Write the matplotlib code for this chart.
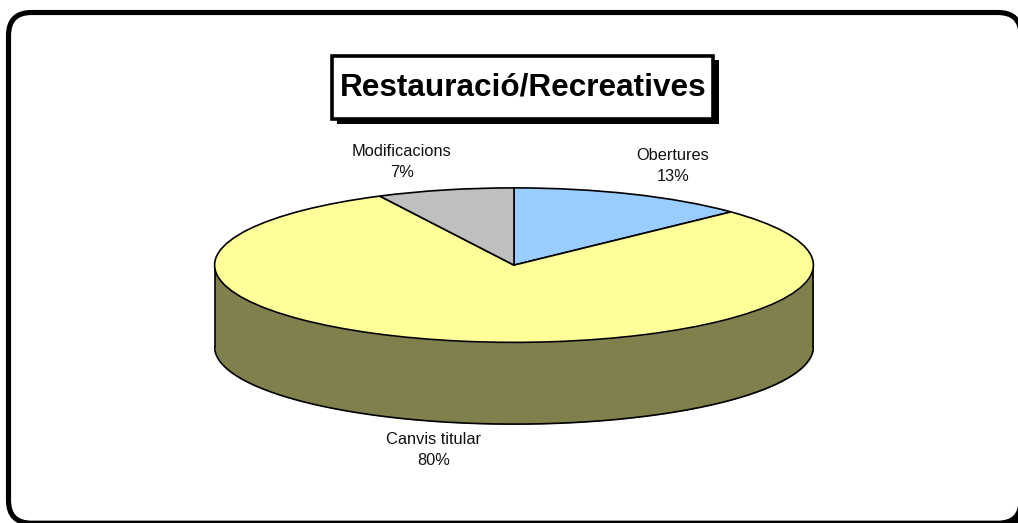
import numpy as np
import matplotlib
matplotlib.use("Agg")
import matplotlib.pyplot as plt
from matplotlib.patches import FancyBboxPatch, Rectangle

plt.rcParams['font.family'] = ['Liberation Sans', 'DejaVu Sans']

TITLE = "Restauració/Recreatives"
labels = ["Obertures", "Canvis titular", "Modificacions"]
shares = [12.9, 79.7, 7.4]
colors = ["#99CCFF", "#FFFF99", "#BFBFBF"]
SIDE_COLOR = "#80804D"

W, H = 1018, 523
# ellipse of the pie top in pixels
CX, CY, RX, RY, DEPTH = 514, 265, 300, 77.5, 82

fig = plt.figure(figsize=(W / 100, H / 100), dpi=100)

# page axes in pixel units for frame, title and labels
page = fig.add_axes([0, 0, 1, 1])
page.set_xlim(0, W)
page.set_ylim(H, 0)
page.axis("off")

# frame runs off the right and bottom of the image, shadow shows in the corner
page.add_patch(FancyBboxPatch((30, 30), 1000, 500, boxstyle="round,pad=0,rounding_size=5",
                              fc="black", ec="black", lw=0))
page.add_patch(FancyBboxPatch((8.5, 12.5), 1012.5, 510.7, boxstyle="round,pad=0,rounding_size=23",
                              fc="white", ec="black", lw=3.7))

# title box with drop shadow
page.add_patch(Rectangle((337, 60), 382, 64, fc="black", ec="none"))
page.add_patch(Rectangle((332, 55.5), 381, 63.5, fc="white", ec="black", lw=2.6))
page.text(523.5, 87.5, TITLE, ha="center", va="center", fontsize=22.7, fontweight="bold")

# pie axes: unit circle stretched into the ellipse
d = DEPTH / RY
ax = fig.add_axes([(CX - RX) / W, 1 - (CY + RY + DEPTH) / H, 2 * RX / W, (2 * RY + DEPTH) / H])
ax.patch.set_alpha(0)

t = np.linspace(np.pi, 2 * np.pi, 300)
xs = np.cos(t)
ax.fill_between(xs, np.sin(t) - d, np.sin(t), color=SIDE_COLOR, lw=0, zorder=1)
ax.plot(xs, np.sin(t) - d, color="black", lw=1.2, zorder=2)
ax.plot([-1, -1], [0, -d], color="black", lw=1.2, zorder=2)
ax.plot([1, 1], [0, -d], color="black", lw=1.2, zorder=2)

ax.pie(shares, colors=colors, startangle=90, counterclock=False, radius=1,
       wedgeprops={"edgecolor": "black", "linewidth": 1.2, "zorder": 3}, frame=True)
ax.set_aspect("auto")
ax.set_xlim(-1.002, 1.002)
ax.set_ylim(-1 - d - 0.005, 1.005)
ax.axis("off")

# data labels
label_pos = [(673, 166), (434, 450), (402, 162)]
for name, share, (x, y) in zip(labels, shares, label_pos):
    page.text(x, y, f"{name}\n{share:.0f}%", ha="center", va="center", fontsize=11.8,
              linespacing=1.45, color="#111111")

fig.savefig("out.png", dpi=100)
plt.close(fig)
